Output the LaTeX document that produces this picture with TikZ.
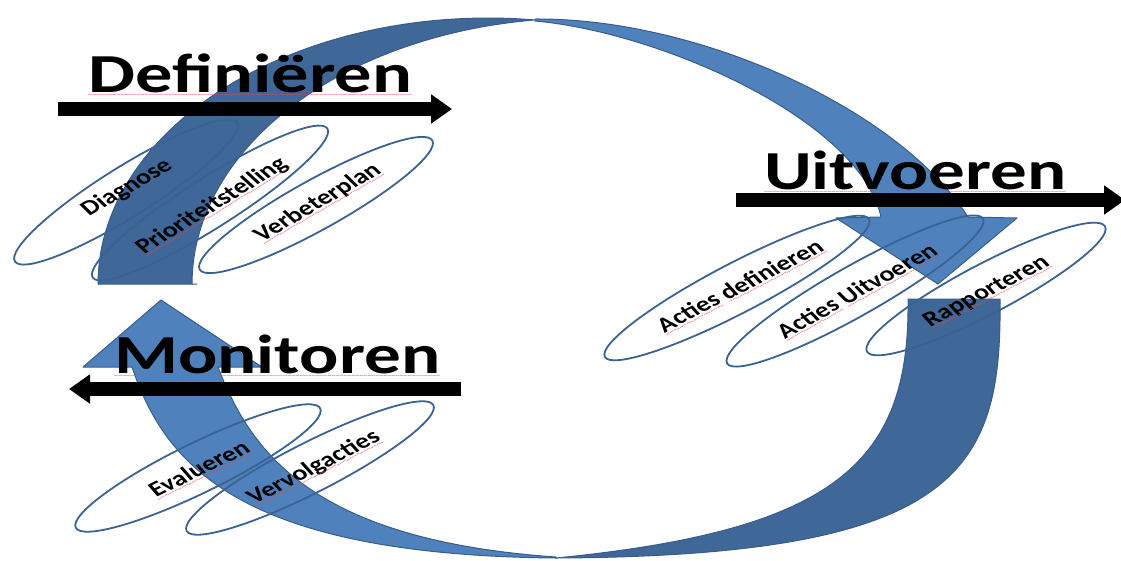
\documentclass[tikz,border=0pt]{standalone}
\usepackage{fontspec}
\setmainfont{Carlito}
\usepackage{graphicx}
\usetikzlibrary{arrows.meta,shapes.geometric}
\definecolor{bandDark}{RGB}{63,103,151}
\definecolor{bandLight}{RGB}{79,129,189}
\definecolor{bandEdge}{RGB}{56,93,138}
\definecolor{ovalEdge}{RGB}{58,99,148}
\definecolor{spellRed}{RGB}{240,70,70}
\tikzset{
  backband/.style={fill=bandDark, draw=bandEdge, line width=1pt, line join=round},
  frontband/.style={fill=bandLight, draw=bandEdge, line width=1pt, line join=round},
  oval/.style={ellipse, draw=ovalEdge, line width=1.8pt, inner sep=0pt, minimum height=50pt},
  lbl/.style={font=\fontsize{21}{23}\selectfont\bfseries, inner sep=0pt},
  titletext/.style={font=\fontsize{55}{60}\selectfont\bfseries, inner sep=0pt, anchor=base west},
  bar/.style={line width=14pt, -{Triangle[length=21pt,width=28pt]}},
}
\newcommand{\spellwave}[1]{\setbox0\hbox{#1}\rlap{\copy0}\raisebox{-4pt}{\textcolor{spellRed}{\hbox to \wd0{\fontsize{6}{6}\selectfont\mdseries\xleaders\hbox{\char"007E}\hfill}}}}
\newcommand{\skewlabel}[2]{\scalebox{1.33}[1]{\rotatebox{#1}{#2}}}
\begin{document}
\begin{tikzpicture}[x=1pt,y=-1pt]
\useasboundingbox (0,0) rectangle (1121,560);
% top curved arrow: back (dark) part
\path[backband] plot[domain=180:83.08,samples=60] ({488+390*cos(\x)},{284-266*sin(\x)})
  -- plot[domain=96.92:180,samples=60] ({582+390*cos(\x)},{284-266*sin(\x)})
  -- (197,284) -- cycle;
% top curved arrow: front (light) part with head
\path[frontband] (535,19) .. controls (700,18) and (900,110) .. (968,217)
  -- (1017,218) -- (938,284) -- (836,218) -- (881,217)
  .. controls (860,120) and (660,32) .. (535,21) -- cycle;
% bottom curved arrow: back (dark) part
\path[backband] (908,299) -- (1000,299) .. controls (1002,470) and (960,556) .. (556,558)
  .. controls (840,530) and (910,460) .. (908,299) -- cycle;
% bottom curved arrow: front (light) part with head
\path[frontband] (556,558) .. controls (240,555) and (165,465) .. (132,367)
  -- (83,367) -- (161,300) -- (262,367) -- (218,367)
  .. controls (250,450) and (310,540) .. (556,557) -- cycle;

% ovals
\node[oval, minimum width=262pt, rotate=32] (oDiag) at (126,192) {};
\node[oval, minimum width=278pt, rotate=32.4] (oPrio) at (210,203) {};
\node[oval, minimum width=266pt, rotate=29] (oVerb) at (316,205) {};
\node[oval, minimum width=298pt, rotate=27.5] (oActDef) at (737,288) {};
\node[oval, minimum width=294pt, rotate=29.5] (oActUit) at (855,291) {};
\node[oval, minimum width=269pt, rotate=27.7] (oRapp) at (986,289) {};
\node[oval, minimum width=272pt, rotate=26] (oEval) at (198,468) {};
\node[oval, minimum width=277pt, rotate=27] (oVerv) at (310,468) {};

% titles
\node[titletext] (tDef) at (88,92) {\resizebox{324pt}{\height}{\spellwave{Definiëren}}};
\node[titletext] (tUit) at (764,189) {\resizebox{302pt}{\height}{\spellwave{Uitvoeren}}};
\node[titletext] (tMon) at (114,373) {\resizebox{326pt}{\height}{\spellwave{Monitoren}}};

% black arrows
\coordinate (aDefS) at (58,109);
\coordinate (aDefE) at (452,109);
\coordinate (aUitS) at (736,200);
\coordinate (aUitE) at (1125,200);
\coordinate (aMonS) at (461,389);
\coordinate (aMonE) at (69,389);
\draw[bar] (aDefS) -- (aDefE);
\draw[bar] (aUitS) -- (aUitE);
\draw[bar] (aMonS) -- (aMonE);

% labels
\node[lbl] (lDiag) at (127,188) {\skewlabel{37.5}{Diagnose}};
\node[lbl] (lPrio) at (212,206) {\skewlabel{39.2}{\spellwave{Prioriteitstelling}}};
\node[lbl] (lVerb) at (318,203) {\skewlabel{37.5}{\spellwave{Verbeterplan}}};
\node[lbl] (lActDef) at (741,287) {\skewlabel{34.5}{\spellwave{Acties} \spellwave{definieren}}};
\node[lbl] (lActUit) at (858,292) {\skewlabel{36.4}{\spellwave{Acties} \spellwave{Uitvoeren}}};
\node[lbl] (lRapp) at (987,292) {\skewlabel{34.5}{\spellwave{Rapporteren}}};
\node[lbl] (lEval) at (200,470) {\skewlabel{33}{\spellwave{Evalueren}}};
\node[lbl] (lVerv) at (314,468) {\skewlabel{34.1}{\spellwave{Vervolgacties}}};
\end{tikzpicture}
\end{document}
